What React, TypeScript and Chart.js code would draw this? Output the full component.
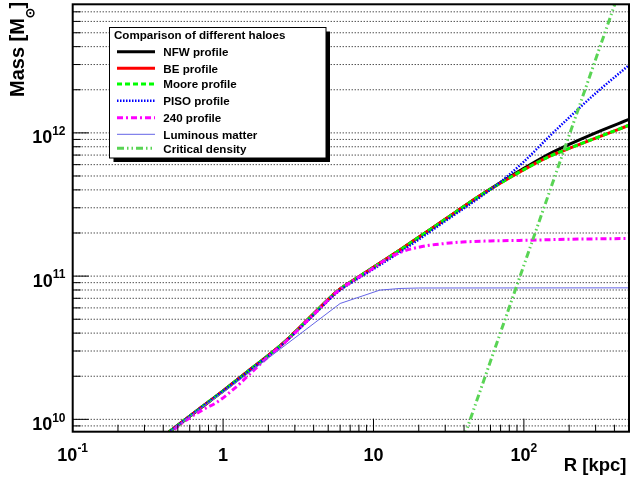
import React, { useEffect, useRef } from "react";
import { Chart, registerables } from "chart.js";

Chart.register(...registerables);

// ---- data (R in kpc, mass in solar masses) ----
const radii = [0.4, 0.5, 0.7, 1, 1.5, 2.5, 4, 5.7, 8, 10, 15, 20, 30, 50, 70, 100, 150, 200, 300, 500];
const nfwMass = [7.6e9, 9.1e9, 1.19e10, 1.58e10, 2.21e10, 3.39e10, 5.45e10, 7.8e10, 9.9e10, 1.152e11, 1.52e11, 1.867e11, 2.49e11, 3.59e11, 4.5e11, 5.65e11, 7.2e11, 8.3e11, 1.0e12, 1.24e12];
const beMass = [7.6e9, 9.1e9, 1.19e10, 1.58e10, 2.21e10, 3.39e10, 5.45e10, 7.8e10, 9.9e10, 1.152e11, 1.52e11, 1.867e11, 2.49e11, 3.59e11, 4.47e11, 5.54e11, 6.9e11, 7.79e11, 9.19e11, 1.13e12];
const mooreMass = [7.6e9, 9.1e9, 1.19e10, 1.58e10, 2.21e10, 3.39e10, 5.45e10, 7.8e10, 9.9e10, 1.152e11, 1.52e11, 1.867e11, 2.49e11, 3.59e11, 4.47e11, 5.54e11, 6.9e11, 7.8e11, 9.2e11, 1.13e12];
const pisoMass = [7.6e9, 9.1e9, 1.19e10, 1.58e10, 2.2e10, 3.36e10, 5.35e10, 7.65e10, 9.7e10, 1.12e11, 1.47e11, 1.8e11, 2.42e11, 3.5e11, 4.55e11, 6.3e11, 9.6e11, 1.28e12, 1.89e12, 2.97e12];

const radii240 = [0.4, 0.455, 0.51, 0.737, 0.904, 1.258, 1.503, 2.095, 2.5, 4, 5.7, 8, 10, 12, 14.1, 17, 20, 23.5, 30, 39, 60, 108, 200, 500];
const mass240 = [7.4e9, 8.2e9, 9.1e9, 1.17e10, 1.31e10, 1.73e10, 2.07e10, 2.86e10, 3.35e10, 5.4e10, 7.75e10, 9.85e10, 1.14e11, 1.3e11, 1.42e11, 1.53e11, 1.59e11, 1.64e11, 1.69e11, 1.73e11, 1.76e11, 1.78e11, 1.81e11, 1.83e11];

const radiiLum = [0.4, 0.5, 0.7, 1, 6, 11, 15, 20, 500];
const massLum = [7.5e9, 9.0e9, 1.18e10, 1.54e10, 6.44e10, 7.98e10, 8.2e10, 8.26e10, 8.28e10];

const radiiCrit = [40, 100, 200, 420];
const massCrit = [7.5e9, 1.19e11, 9.6e11, 9.0e12];

const xTickExps = [-1, 0, 1, 2];
const yTickExps = [10, 11, 12];
const legendTitle = "Comparison of different haloes";
const seriesNames = ["NFW profile", "BE profile", "Moore profile", "PISO profile", "240 profile", "Luminous matter", "Critical density"];

const FONT = '"Liberation Sans", Arial, Helvetica, sans-serif';

type Style = { color: string; width: number; dash: number[] };
const styles: Style[] = [
  { color: "#000000", width: 3, dash: [] },
  { color: "#ff0000", width: 3, dash: [] },
  { color: "#00ff00", width: 3, dash: [5, 3] },
  { color: "#0000ff", width: 2.5, dash: [1.5, 1.5] },
  { color: "#ff00ff", width: 3, dash: [6, 3, 2, 3] },
  { color: "rgb(100,100,230)", width: 1, dash: [] },
  { color: "rgb(89,212,84)", width: 3, dash: [7, 3, 1.5, 3, 1.5, 3] },
];

const pts = (xs: number[], ys: number[]) => xs.map((x, i) => ({ x, y: ys[i] }));

function drawPow(ctx: CanvasRenderingContext2D, exp: number, x: number, baseY: number, align: "center" | "right") {
  const mainFont = `bold 18px ${FONT}`;
  const supFont = `bold 12px ${FONT}`;
  let main = "10";
  let sup = "";
  if (exp === 0) main = "1";
  else if (exp !== 1) sup = exp < 0 ? "-" + Math.abs(exp) : String(exp);
  ctx.font = mainFont;
  const wm = ctx.measureText(main).width;
  ctx.font = supFont;
  const ws = sup ? ctx.measureText(sup).width : 0;
  const total = wm + ws;
  const start = align === "center" ? x - total / 2 : x - total;
  ctx.textAlign = "left";
  ctx.textBaseline = "alphabetic";
  ctx.font = mainFont;
  ctx.fillText(main, start, baseY);
  if (sup) {
    ctx.font = supFont;
    ctx.fillText(sup, start + wm, baseY - 8.3);
  }
}

const rootPlugin = {
  id: "rootStyle",
  beforeDraw(chart: any) {
    const ctx = chart.ctx as CanvasRenderingContext2D;
    ctx.save();
    ctx.fillStyle = "#ffffff";
    ctx.fillRect(0, 0, chart.width, chart.height);
    ctx.restore();
  },
  beforeDatasetsDraw(chart: any) {
    const ctx = chart.ctx as CanvasRenderingContext2D;
    const a = chart.chartArea;
    const ys = chart.scales.y;
    ctx.save();
    ctx.strokeStyle = "#000";
    ctx.lineWidth = 1;
    ctx.setLineDash([1, 2]);
    for (let e = 9; e <= 12; e++) {
      for (let m = 1; m <= 9; m++) {
        const v = m * Math.pow(10, e);
        if (v <= ys.min || v >= ys.max) continue;
        const py = ys.getPixelForValue(v);
        ctx.beginPath();
        ctx.moveTo(a.left, py);
        ctx.lineTo(a.right, py);
        ctx.stroke();
      }
    }
    ctx.restore();
  },
  afterDatasetsDraw(chart: any) {
    const ctx = chart.ctx as CanvasRenderingContext2D;
    const a = chart.chartArea;
    const xs = chart.scales.x;
    const ys = chart.scales.y;
    ctx.save();
    ctx.setLineDash([]);
    ctx.strokeStyle = "#000";
    ctx.fillStyle = "#000";
    // ticks
    ctx.lineWidth = 1;
    for (let e = -1; e <= 2; e++) {
      for (let m = 1; m <= 9; m++) {
        const v = m * Math.pow(10, e);
        if (v < xs.min * 0.999 || v > xs.max * 1.001) continue;
        const px = xs.getPixelForValue(v);
        const len = m === 1 ? 13 : 7;
        ctx.beginPath();
        ctx.moveTo(px, a.bottom);
        ctx.lineTo(px, a.bottom - len);
        ctx.stroke();
      }
    }
    for (let e = 9; e <= 12; e++) {
      for (let m = 1; m <= 9; m++) {
        const v = m * Math.pow(10, e);
        if (v < ys.min || v > ys.max) continue;
        const py = ys.getPixelForValue(v);
        const len = m === 1 ? 16 : 8;
        ctx.beginPath();
        ctx.moveTo(a.left, py);
        ctx.lineTo(a.left + len, py);
        ctx.stroke();
      }
    }
    // frame
    ctx.lineWidth = 2;
    ctx.strokeRect(a.left, a.top, a.right - a.left, a.bottom - a.top);

    // tick labels
    for (const e of xTickExps) {
      drawPow(ctx, e, xs.getPixelForValue(Math.pow(10, e)), 460.7, "center");
    }
    for (const e of yTickExps) {
      const py = ys.getPixelForValue(Math.pow(10, e));
      drawPow(ctx, e, 65.5, py + 10.6, "right");
    }

    // x title
    ctx.font = `bold 18.5px ${FONT}`;
    ctx.textAlign = "right";
    ctx.textBaseline = "alphabetic";
    ctx.fillText("R [kpc]", 626.5, 470.7);

    // y title
    ctx.save();
    ctx.translate(23.5, 97);
    ctx.rotate(-Math.PI / 2);
    ctx.font = `bold 20px ${FONT}`;
    ctx.textAlign = "left";
    ctx.fillText("Mass [M", 0, 0);
    const w = ctx.measureText("Mass [M").width;
    ctx.lineWidth = 1.5;
    ctx.beginPath();
    ctx.arc(w + 5, 6.8, 3.6, 0, Math.PI * 2);
    ctx.stroke();
    ctx.beginPath();
    ctx.arc(w + 5, 6.8, 1.1, 0, Math.PI * 2);
    ctx.fill();
    ctx.fillText("]", w + 9.5, 0);
    ctx.restore();

    // legend
    const L = 109.5, T = 27.5, R = 326, B = 158;
    ctx.fillStyle = "#000";
    ctx.fillRect(L + 4, T + 4, R - L, B - T);
    ctx.fillStyle = "#fff";
    ctx.fillRect(L, T, R - L, B - T);
    ctx.lineWidth = 1;
    ctx.strokeStyle = "#000";
    ctx.strokeRect(L, T, R - L, B - T);
    ctx.fillStyle = "#000";
    ctx.font = `bold 11.6px ${FONT}`;
    ctx.textAlign = "left";
    ctx.textBaseline = "alphabetic";
    ctx.fillText(legendTitle, 114, 39.3);
    const lineYs = [51.7, 68.3, 84, 100.7, 117.7, 134.3, 148.3];
    const textYs = [55.7, 72.7, 88.3, 105.3, 122, 139.3, 153.3];
    seriesNames.forEach((name, i) => {
      const s = styles[i];
      ctx.strokeStyle = s.color;
      ctx.lineWidth = s.width;
      ctx.setLineDash(s.dash);
      ctx.beginPath();
      ctx.moveTo(117, lineYs[i]);
      ctx.lineTo(155, lineYs[i]);
      ctx.stroke();
      ctx.setLineDash([]);
      ctx.fillStyle = "#000";
      ctx.fillText(name, 163.3, textYs[i]);
    });
    ctx.restore();
  },
};

export default function App() {
  const ref = useRef<HTMLCanvasElement | null>(null);
  useEffect(() => {
    if (!ref.current) return;
    const series = [
      pts(radii, nfwMass),
      pts(radii, beMass),
      pts(radii, mooreMass),
      pts(radii, pisoMass),
      pts(radii240, mass240),
      pts(radiiLum, massLum),
      pts(radiiCrit, massCrit),
    ];
    const datasets = series.map((data, i) => ({
      label: seriesNames[i],
      data,
      borderColor: styles[i].color,
      borderWidth: styles[i].width,
      borderDash: styles[i].dash,
      backgroundColor: styles[i].color,
      fill: false,
      pointRadius: 0,
      cubicInterpolationMode: i >= 5 ? "default" : "monotone",
      tension: i >= 5 ? 0 : 0.4,
      order: 10 - i,
    }));
    const chart = new Chart(ref.current, {
      type: "line",
      data: { datasets } as any,
      options: {
        animation: false,
        responsive: false,
        devicePixelRatio: 1,
        layout: { padding: { left: 72.7, right: 2, top: 4.3, bottom: 45.3 } },
        scales: {
          x: { type: "logarithmic", min: 0.1, max: 500, display: false },
          y: { type: "logarithmic", min: 8.2e9, max: 7.9e12, display: false },
        },
        plugins: { legend: { display: false }, tooltip: { enabled: false } },
      } as any,
      plugins: [rootPlugin as any],
    });
    return () => chart.destroy();
  }, []);
  return (
    <div style={{ position: "fixed", left: 0, top: 0, width: 631, height: 477, background: "#fff" }}>
      <canvas ref={ref} width={631} height={477} style={{ display: "block" }} />
    </div>
  );
}
